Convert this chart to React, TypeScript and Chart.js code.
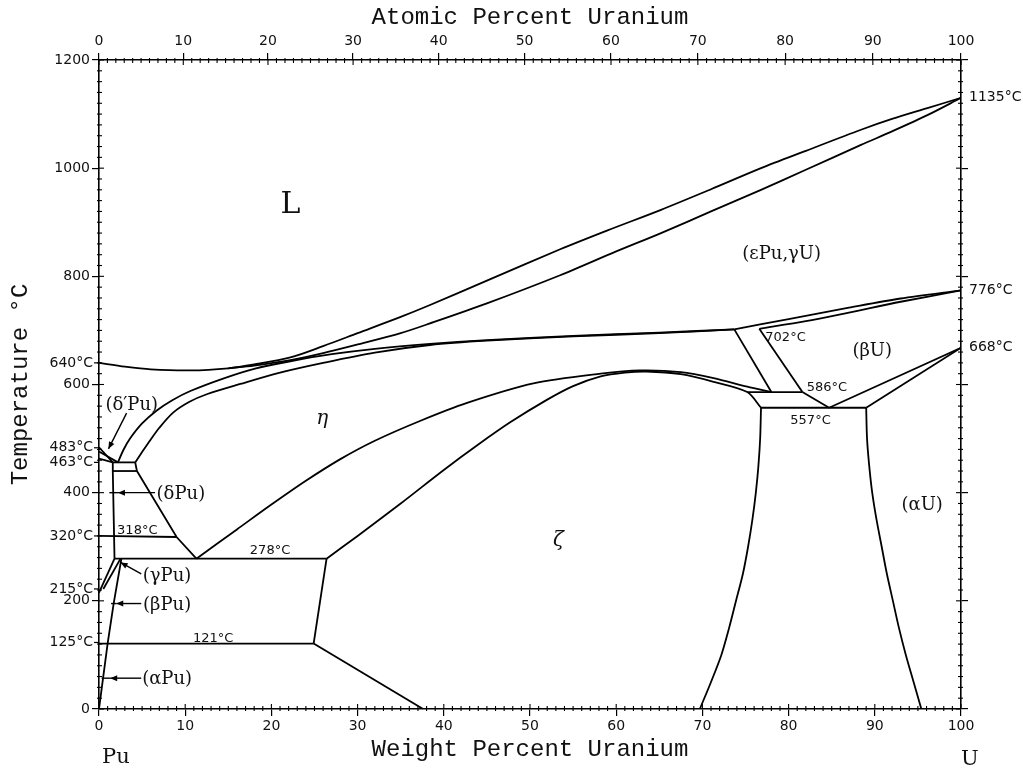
import React, { useEffect, useRef } from "react";
import { Chart, registerables } from "chart.js";

Chart.register(...registerables);

type Pt = [number, number];

// ---------- axes ----------
const weightTicks = [0, 10, 20, 30, 40, 50, 60, 70, 80, 90, 100];
const atomicTicks = [0, 10, 20, 30, 40, 50, 60, 70, 80, 90, 100];
const tempTicks = [0, 200, 400, 600, 800, 1000, 1200];
const U_MASS = 238.03;
const PU_MASS = 244.06;
const atToWt = (a: number) => (a * U_MASS) / (a * U_MASS + (100 - a) * PU_MASS) * 100;

// ---------- phase boundaries (wt% U, °C) ----------
const liquidus: Pt[] = [
  [0, 640], [3, 633], [6, 628], [10.6, 626], [15, 630], [18, 637], [22.2, 650], [26, 671],
  [30, 695], [35, 725], [38.4, 747], [45, 792], [53.5, 850], [59, 885], [65.2, 923],
  [71, 961], [76.8, 1000], [82, 1032], [88.4, 1071], [92, 1091], [96.1, 1111], [100, 1130],
];
const solidus: Pt[] = [
  [15, 630], [18, 635], [22.2, 645], [26, 658], [30, 674], [35, 695], [38.4, 713], [45, 750],
  [53.5, 802], [60, 846], [65.2, 880], [71, 920], [76.8, 960], [82, 997], [88.4, 1043],
  [92, 1068], [96.1, 1098], [100, 1130],
];
const etaUpper: Pt[] = [
  [2.2, 456], [2.8, 478], [3.6, 500], [5, 528], [6.7, 552], [8.5, 571], [10.6, 588], [14.4, 611],
  [18, 629], [22.2, 643], [27, 656], [32, 666], [38.4, 675], [45, 682], [55, 690], [65, 696], [73.7, 702],
];
const etaLower: Pt[] = [
  [4.2, 456], [5, 475], [5.9, 496], [7, 520], [8.6, 548], [10.5, 568], [12.5, 582], [16.4, 601],
  [21, 622], [26, 640], [32, 659], [38.4, 673], [45, 681], [55, 689], [65, 695], [73.7, 702],
];
const etaDome: Pt[] = [
  [11.3, 278], [16, 332], [20, 378], [24, 422], [28, 462], [32, 496], [37.3, 533], [42.7, 566],
  [50.4, 602], [58.2, 620], [62.8, 626], [67.5, 623], [71.3, 612], [75.2, 596], [78, 586],
];
const zeta: Pt[] = [
  [26.4, 278], [30, 320], [35, 380], [40, 442], [44, 489], [47.7, 530], [52, 572],
  [55, 597], [58.2, 615], [61, 622], [63.5, 624], [67.5, 619], [71.3, 605], [75.2, 586], [76.8, 557],
];
const zetaRight: Pt[] = [
  [76.8, 557], [76.7, 500], [76.5, 450], [76.2, 400], [75.8, 350], [75.3, 300], [74.7, 250],
  [73.9, 200], [73.1, 150], [72.2, 100], [71.0, 50], [69.7, 0],
];
const alphaULeft: Pt[] = [
  [89.0, 557], [89.1, 500], [89.35, 450], [89.7, 400], [90.2, 350], [90.8, 300], [91.4, 250],
  [92.1, 200], [92.8, 150], [93.6, 100], [94.5, 50], [95.4, 0],
];
const epsBetaUpper: Pt[] = [[73.7, 702], [80, 721], [87, 742], [93, 759], [100, 774]];
const epsBetaLower: Pt[] = [[76.6, 703], [82, 717], [87, 733], [93, 753], [100, 774]];

// straight boundaries
const eutectoid278: Pt[] = [[1.8, 278], [26.4, 278]];
const line121: Pt[] = [[0, 121], [24.9, 121]];
const zetaLeftUpper: Pt[] = [[26.4, 278], [24.9, 121]];
const zetaLeftLower: Pt[] = [[24.9, 121], [37.6, 0]];
const alphaPu: Pt[] = [[0, 0], [1.0, 121], [1.7, 195], [2.6, 278]];
const gamma1: Pt[] = [[0, 215], [1.8, 278]];
const gamma2: Pt[] = [[0.5, 222], [2.5, 278]];
const line318: Pt[] = [[0, 320], [9.0, 318]];
const deltaLeft: Pt[] = [[1.6, 456], [1.6, 440], [1.8, 278]];
const deltaRight: Pt[] = [[4.4, 440], [9.0, 318], [11.3, 278]];
const boxTop: Pt[] = [[1.6, 456], [4.2, 456]];
const boxRight: Pt[] = [[4.2, 456], [4.4, 440]];
const boxBottom: Pt[] = [[1.6, 440], [4.4, 440]];
const deltaPrime1: Pt[] = [[0, 484], [1.6, 456]];
const deltaPrime2: Pt[] = [[0, 476], [2.2, 456]];
const line463: Pt[] = [[0, 463], [1.6, 456]];
const par1: Pt[] = [[73.7, 702], [78.0, 586]];
const par2: Pt[] = [[76.6, 703], [81.6, 586]];
const line586: Pt[] = [[75.2, 586], [81.6, 586]];
const betaLine: Pt[] = [[81.6, 586], [84.7, 557]];
const line557: Pt[] = [[76.8, 557], [89.0, 557]];
const betaAlpha1: Pt[] = [[84.7, 557], [100, 668]];
const betaAlpha2: Pt[] = [[89.0, 557], [100, 668]];

const curves: Pt[][] = [
  liquidus, solidus, etaUpper, etaLower, etaDome, zeta, zetaRight, alphaULeft, epsBetaUpper, epsBetaLower,
];
const straights: Pt[][] = [
  eutectoid278, line121, zetaLeftUpper, zetaLeftLower, alphaPu, gamma1, gamma2, line318, deltaLeft,
  deltaRight, boxTop, boxRight, boxBottom, deltaPrime1, deltaPrime2, line463, par1, par2, line586,
  betaLine, line557, betaAlpha1, betaAlpha2,
];

// ---------- labels ----------
const phaseLabels: [string, number, number][] = [
  ["(εPu,γU)", 79.2, 841],
  ["(βU)", 89.7, 662],
  ["(αU)", 95.5, 377],
  ["(δ′Pu)", 3.8, 562],
  ["(δPu)", 9.5, 397],
  ["(γPu)", 7.9, 246],
  ["(βPu)", 7.9, 192],
  ["(αPu)", 7.9, 55],
];
const bigLabels: [string, number, number][] = [["L", 22.2, 932]];
const greekLabels: [string, number, number][] = [["η", 25.9, 537], ["ζ", 53.3, 311]];
const inlineTemps: [string, number, number][] = [
  ["702°C", 77.3, 686], ["586°C", 82.1, 594], ["557°C", 80.2, 534],
  ["318°C", 2.1, 329], ["278°C", 17.5, 292], ["121°C", 10.9, 131],
];
const leftTemps: [string, number][] = [
  ["640°C", 640], ["483°C", 483], ["463°C", 456], ["320°C", 320], ["215°C", 222], ["125°C", 123],
];
const rightTemps: [string, number][] = [["1135°C", 1130], ["776°C", 774], ["668°C", 668]];
const arrows: [Pt, Pt][] = [
  [[3.2, 547], [1.1, 481]],
  [[6.5, 400], [2.2, 400]],
  [[4.9, 250], [2.5, 271]],
  [[4.9, 195], [2.0, 195]],
  [[4.9, 57], [1.3, 57]],
];
const arrowTails: [Pt, Pt][] = [
  [[2.2, 400], [1.2, 400]],
  [[2.0, 195], [1.4, 195]],
  [[1.3, 57], [0.3, 57]],
];

const TICK_FONT = { family: "DejaVu Sans", size: 14 };
const TITLE_FONT = { family: "Liberation Mono", size: 24 };

const decor = {
  id: "decor",
  afterDraw(chart: any) {
    const { ctx, chartArea: ca, scales } = chart;
    const sx = scales.x;
    const sy = scales.y;
    const st = scales.xTop;
    const X = (v: number) => sx.getPixelForValue(v);
    const Y = (v: number) => sy.getPixelForValue(v);
    ctx.save();
    ctx.strokeStyle = "#000";
    ctx.fillStyle = "#111";
    ctx.lineWidth = 1.1;
    const seg = (x1: number, y1: number, x2: number, y2: number) => {
      ctx.beginPath();
      ctx.moveTo(x1, y1);
      ctx.lineTo(x2, y2);
      ctx.stroke();
    };
    // minor ticks + inward major ticks
    for (let v = 0; v <= 100; v++) {
      const major = v % 10 === 0;
      const px = X(v);
      seg(px, ca.bottom - (major ? 5 : 3), px, ca.bottom + (major ? 0 : 2));
      const pt = st.getPixelForValue(atToWt(v));
      seg(pt, ca.top + (major ? 5 : 3), pt, ca.top - (major ? 0 : 2));
    }
    for (let t = 0; t <= 1200; t += 20) {
      const major = t % 200 === 0;
      const py = Y(t);
      seg(ca.left + (major ? 5 : 3), py, ca.left - (major ? 0 : 2), py);
      seg(ca.right - (major ? 5 : 3), py, ca.right + (major ? 0 : 2), py);
    }
    // arrows
    ctx.lineWidth = 1.4;
    for (const [a, b] of arrows) {
      const x1 = X(a[0]), y1 = Y(a[1]), x2 = X(b[0]), y2 = Y(b[1]);
      seg(x1, y1, x2, y2);
      const ang = Math.atan2(y2 - y1, x2 - x1);
      const L = 7, W = 3;
      ctx.beginPath();
      ctx.moveTo(x2, y2);
      ctx.lineTo(x2 - L * Math.cos(ang) + W * Math.sin(ang), y2 - L * Math.sin(ang) - W * Math.cos(ang));
      ctx.lineTo(x2 - L * Math.cos(ang) - W * Math.sin(ang), y2 - L * Math.sin(ang) + W * Math.cos(ang));
      ctx.closePath();
      ctx.fillStyle = "#000";
      ctx.fill();
    }
    for (const [a, b] of arrowTails) seg(X(a[0]), Y(a[1]), X(b[0]), Y(b[1]));
    ctx.fillStyle = "#111";
    // temperature labels
    ctx.font = "14px 'DejaVu Sans'";
    ctx.textBaseline = "middle";
    ctx.textAlign = "right";
    ctx.lineWidth = 1.2;
    for (const [s, t] of leftTemps) {
      ctx.fillText(s, ca.left - 6, Y(t));
      seg(ca.left - 5, Y(t), ca.left, Y(t));
    }
    ctx.textAlign = "left";
    for (const [s, t] of rightTemps) ctx.fillText(s, ca.right + 8, Y(t));
    ctx.font = "13px 'DejaVu Sans'";
    for (const [s, w, t] of inlineTemps) ctx.fillText(s, X(w), Y(t));
    // phase labels
    ctx.textAlign = "center";
    ctx.font = "18px 'DejaVu Serif'";
    for (const [s, w, t] of phaseLabels) ctx.fillText(s, X(w), Y(t));
    ctx.font = "30px 'DejaVu Serif'";
    for (const [s, w, t] of bigLabels) ctx.fillText(s, X(w), Y(t));
    ctx.font = "italic 20px 'DejaVu Serif'";
    for (const [s, w, t] of greekLabels) ctx.fillText(s, X(w), Y(t));
    // element labels under the axis ends
    ctx.font = "21px 'DejaVu Serif'";
    ctx.textAlign = "left";
    ctx.fillText("Pu", X(0) + 3, 758);
    ctx.fillText("U", X(100), 760);
    ctx.restore();
  },
};

export default function App() {
  const ref = useRef<HTMLCanvasElement>(null);
  useEffect(() => {
    const canvas = ref.current;
    if (!canvas) return;
    const mk = (data: Pt[], curve: boolean) => ({
      data: data.map(([x, y]) => ({ x, y })),
      xAxisID: "x",
      yAxisID: "y",
      showLine: true,
      borderColor: "#000",
      borderWidth: 1.8,
      pointRadius: 0,
      pointHoverRadius: 0,
      fill: false,
      tension: curve ? 0.3 : 0,
    });
    const datasets = [...curves.map((c) => mk(c, true)), ...straights.map((c) => mk(c, false))];
    const gridOpts = { drawOnChartArea: false, drawTicks: true, tickLength: 7, color: "#000", lineWidth: 1.2 };
    const borderOpts = { display: true, color: "#000", width: 1.6 };
    const chart = new Chart(canvas, {
      type: "scatter",
      data: { datasets } as any,
      options: {
        responsive: false,
        animation: false,
        devicePixelRatio: 1,
        events: [],
        layout: { padding: 0 },
        plugins: { legend: { display: false }, tooltip: { enabled: false } },
        scales: {
          x: {
            type: "linear",
            position: "bottom",
            min: 0,
            max: 100,
            afterBuildTicks: (s: any) => {
              s.ticks = weightTicks.map((v) => ({ value: v }));
            },
            ticks: {
              font: TICK_FONT,
              color: "#111",
              padding: 2,
              maxRotation: 0,
              autoSkip: false,
              callback: (v: any) => String(v),
            },
            grid: gridOpts,
            border: borderOpts,
            title: {
              display: true,
              text: "Weight Percent Uranium",
              font: TITLE_FONT,
              color: "#111",
              padding: { top: 0, bottom: 8 },
            },
            afterFit: (s: any) => {
              s.height = 63;
            },
          },
          xTop: {
            type: "linear",
            position: "top",
            min: 0,
            max: 100,
            afterBuildTicks: (s: any) => {
              s.ticks = atomicTicks.map((a) => ({ value: atToWt(a) }));
            },
            ticks: {
              font: TICK_FONT,
              color: "#111",
              padding: 3,
              maxRotation: 0,
              autoSkip: false,
              callback: (_v: any, i: number) => String(atomicTicks[i]),
            },
            grid: gridOpts,
            border: borderOpts,
            title: {
              display: true,
              text: "Atomic Percent Uranium",
              font: TITLE_FONT,
              color: "#111",
              padding: { top: 3, bottom: 0 },
            },
            afterFit: (s: any) => {
              s.height = 60;
            },
          },
          y: {
            type: "linear",
            position: "left",
            min: 0,
            max: 1200,
            afterBuildTicks: (s: any) => {
              s.ticks = tempTicks.map((v) => ({ value: v }));
            },
            ticks: { font: TICK_FONT, color: "#111", padding: 2, callback: (v: any) => String(v) },
            grid: gridOpts,
            border: borderOpts,
            title: {
              display: true,
              text: "Temperature °C",
              font: TITLE_FONT,
              color: "#111",
              padding: { top: 6, bottom: 0 },
            },
            afterFit: (s: any) => {
              s.width = 99;
            },
          },
          y2: {
            type: "linear",
            position: "right",
            min: 0,
            max: 1200,
            afterBuildTicks: (s: any) => {
              s.ticks = tempTicks.map((v) => ({ value: v }));
            },
            ticks: { display: false },
            grid: gridOpts,
            border: borderOpts,
            afterFit: (s: any) => {
              s.width = 62;
            },
          },
        },
      } as any,
      plugins: [decor],
    });
    return () => chart.destroy();
  }, []);
  return (
    <div style={{ position: "fixed", left: 0, top: 0, width: 1023, height: 772, background: "#fff" }}>
      <canvas ref={ref} width={1023} height={772} />
    </div>
  );
}
